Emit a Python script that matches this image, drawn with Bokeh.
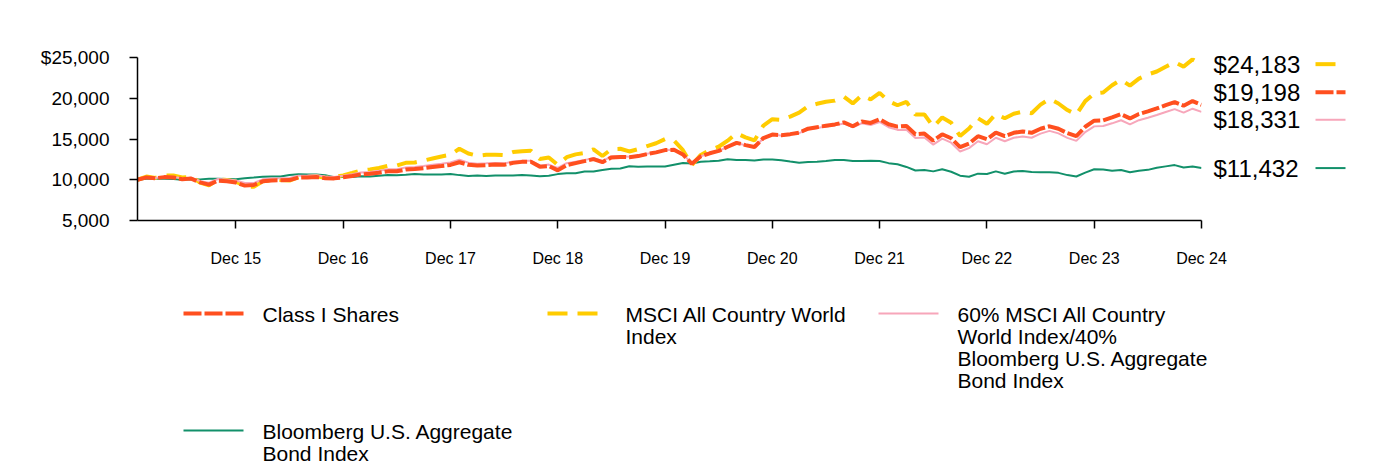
from bokeh.plotting import figure
from bokeh.models import Range1d, FixedTicker
from bokeh.embed import file_html
from bokeh.resources import INLINE
from bokeh.core.properties import value

# ---------------- data (month index 0 = start, 119 = Dec 24) ----------------
tick_months = [11, 23, 35, 47, 59, 71, 83, 95, 107, 119]
tick_labels = ["Dec 15", "Dec 16", "Dec 17", "Dec 18", "Dec 19",
               "Dec 20", "Dec 21", "Dec 22", "Dec 23", "Dec 24"]

y_ticks = [5000, 10000, 15000, 20000, 25000]
y_tick_labels = ["5,000", "10,000", "15,000", "20,000", "$25,000"]

class_i = [10000,
    10287, 10190, 10323, 10286, 10066, 10148, 9676, 9395, 9889, 9811, 9662,
    9279, 9354, 9804, 9917, 9936, 9962, 10262, 10288, 10334, 10196, 10167, 10304,
    10459, 10664, 10731, 10864, 11028, 11053, 11246, 11313, 11422, 11556, 11685, 11819,
    12151, 11836, 11738, 11796, 11862, 11831, 12069, 12194, 12195, 11609, 11679, 11157,
    11793, 12041, 12286, 12536, 12155, 12745, 12792, 12768, 12901, 13155, 13358, 13637,
    13680, 13110, 11960, 12880, 13245, 13540, 14050, 14530, 14250, 14020, 15120, 15550,
    15454, 15596, 15783, 16263, 16452, 16629, 16790, 17045, 16563, 17135, 16975, 17434,
    16806, 16519, 16599, 15581, 15663, 14786, 15580, 15088, 14002, 14432, 15347, 14970,
    15783, 15348, 15757, 15932, 15759, 16254, 16558, 16253, 15714, 15362, 16500, 17244,
    17287, 17651, 18048, 17525, 18070, 18397, 18747, 19157, 19527, 19089, 19653, 19198]

acwi = [10000,
    10393, 10232, 10533, 10522, 10276, 10368, 9657, 9307, 10039, 9959, 9778,
    9188, 9126, 9800, 9948, 9961, 9901, 10322, 10356, 10419, 10240, 10318, 10541,
    10827, 11133, 11271, 11447, 11695, 11748, 12076, 12122, 12356, 12613, 12859, 13066,
    13802, 13224, 12941, 13065, 13082, 13013, 13403, 13509, 13568, 12552, 12735, 11838,
    12773, 13114, 13279, 13728, 12914, 13760, 13800, 13473, 13756, 14133, 14478, 14988,
    14823, 13625, 11786, 13048, 13616, 14052, 14795, 15700, 15196, 14827, 16655, 17428,
    17350, 17752, 18226, 19022, 19317, 19574, 19709, 20202, 19368, 20354, 19863, 20658,
    19648, 19141, 19556, 17992, 18014, 16495, 17646, 16997, 15370, 16291, 17555, 16863,
    18072, 17553, 18094, 18355, 18157, 19212, 19915, 19357, 18556, 17999, 19646, 20589,
    20710, 21599, 22277, 21542, 22414, 22914, 23283, 23870, 24424, 23877, 24768, 24183]

blend = [10000,
    10287, 10210, 10375, 10359, 10168, 10251, 9823, 9636, 10091, 10032, 9910,
    9606, 9594, 10055, 10161, 10170, 10207, 10493, 10509, 10545, 10404, 10353, 10493,
    10672, 10882, 10961, 11097, 11276, 11302, 11511, 11579, 11691, 11840, 11972, 12110,
    12463, 12102, 11978, 12012, 12055, 12011, 12228, 12317, 12318, 11726, 11857, 11443,
    12034, 12224, 12410, 12663, 12303, 12848, 12882, 12832, 12966, 13195, 13385, 13664,
    13679, 13114, 12021, 12879, 13239, 13527, 14037, 14507, 14225, 13992, 15082, 15510,
    15423, 15549, 15720, 16182, 16354, 16530, 16673, 16910, 16432, 16932, 16708, 17092,
    16444, 16116, 16147, 15127, 15177, 14314, 15053, 14550, 13463, 13877, 14728, 14353,
    15147, 14729, 15151, 15319, 15153, 15659, 15998, 15688, 15139, 14771, 15850, 16549,
    16590, 16923, 17304, 16786, 17308, 17605, 17940, 18315, 18668, 18232, 18717, 18331]

agg = [10000,
    10114, 10161, 10124, 10100, 9990, 10060, 10046, 10114, 10116, 10090, 10058,
    10197, 10269, 10364, 10403, 10406, 10593, 10660, 10648, 10642, 10561, 10311, 10325,
    10346, 10415, 10410, 10490, 10571, 10560, 10605, 10701, 10650, 10656, 10642, 10691,
    10568, 10468, 10535, 10457, 10531, 10518, 10520, 10587, 10519, 10436, 10499, 10692,
    10805, 10799, 11006, 11010, 11206, 11347, 11372, 11667, 11605, 11640, 11634, 11626,
    11849, 12062, 11991, 12204, 12261, 12338, 12522, 12420, 12414, 12358, 12479, 12496,
    12406, 12227, 12074, 12169, 12209, 12295, 12433, 12409, 12301, 12298, 12335, 12303,
    12038, 11903, 11572, 11133, 11204, 11028, 11297, 10977, 10503, 10366, 10748, 10700,
    11030, 10744, 11017, 11084, 10963, 10924, 10916, 10846, 10571, 10404, 10875, 11292,
    11262, 11103, 11205, 10922, 11108, 11213, 11476, 11641, 11797, 11504, 11626, 11432]

end_labels = ["$24,183", "$19,198", "$18,331", "$11,432"]
end_label_y = [24183, 20740, 17360, 11432]   # label positions (spread to avoid overlap)

legend_names = [
    ["Class I Shares"],
    ["MSCI All Country World", "Index"],
    ["60% MSCI All Country", "World Index/40%", "Bloomberg U.S. Aggregate", "Bond Index"],
    ["Bloomberg U.S. Aggregate", "Bond Index"],
]

# ---------------- layout / styles ----------------
W, H = 1384, 472
LEFT, RIGHT_EDGE, TOP, BOTTOM = 137, 1201, 57, 220
X0, X1, Y0, Y1 = 0, 119, 5000, 25000

FONT = "Liberation Sans"
ORANGE = "#FF4F1F"
YELLOW = "#FFCC00"
PINK = "#F7A6BA"
GREEN = "#12906A"
styles = {
    "class_i": dict(color=ORANGE, width=4, dash="18 3"),
    "acwi": dict(color=YELLOW, width=4, dash="20 10"),
    "blend": dict(color=PINK, width=2, dash="solid"),
    "agg": dict(color=GREEN, width=2, dash="solid"),
}


def px_x(xp):
    """page pixel -> data x (for annotations outside the frame)"""
    return X0 + (xp - LEFT) * (X1 - X0) / (RIGHT_EDGE - LEFT)


def px_y(yp):
    return Y0 + (BOTTOM - yp) * (Y1 - Y0) / (BOTTOM - TOP)


months = list(range(len(class_i)))

p = figure(width=W, height=H, output_backend="svg", toolbar_location=None,
           x_range=Range1d(X0, X1), y_range=Range1d(Y0, Y1),
           min_border_left=LEFT, min_border_right=W - RIGHT_EDGE,
           min_border_top=TOP, min_border_bottom=H - BOTTOM)
p.outline_line_color = None
p.grid.visible = False
p.background_fill_color = "white"
p.border_fill_color = "white"

for ax in (p.xaxis[0], p.yaxis[0]):
    ax.axis_line_color = "#000000"
    ax.axis_line_width = 1.5
    ax.major_tick_line_color = "#000000"
    ax.major_tick_line_width = 1.5
    ax.major_tick_out = 8
    ax.major_tick_in = 0
    ax.minor_tick_line_color = None
    ax.major_label_text_font = FONT
    ax.major_label_text_color = "#000000"

p.xaxis.ticker = FixedTicker(ticks=tick_months)
p.xaxis.major_label_overrides = {m: l for m, l in zip(tick_months, tick_labels)}
p.xaxis.major_label_text_font_size = "16px"
p.xaxis.major_label_standoff = 21

p.yaxis.ticker = FixedTicker(ticks=y_ticks)
p.yaxis.major_label_overrides = {v: l for v, l in zip(y_ticks, y_tick_labels)}
p.yaxis.major_label_text_font_size = "19px"
p.yaxis.major_label_standoff = 20

series = [("agg", agg), ("acwi", acwi), ("blend", blend), ("class_i", class_i)]
for key, vals in series:
    s = styles[key]
    p.line(months, vals, line_color=s["color"], line_width=s["width"],
           line_dash=s["dash"])

# right-hand end labels + swatches (drawn at overlay level, outside the frame)
order = ["acwi", "class_i", "blend", "agg"]
for key, txt, ly in zip(order, end_labels, end_label_y):
    t = p.text(x=[px_x(1213)], y=[ly], text=[txt], text_font=value(FONT),
               text_font_size="24px", text_baseline="middle", text_align="left",
               text_color="#000000")
    t.level = "overlay"
    s = styles[key]
    r = p.line([px_x(1315), px_x(1345)], [ly, ly], line_color=s["color"],
               line_width=max(s["width"], 2), line_dash=s["dash"])
    r.level = "overlay"

# bottom legend
legend_keys = ["class_i", "acwi", "blend", "agg"]
swatch_x = [(183, 243), (547, 598), (878, 938), (183, 243)]
text_x = [262, 625, 957, 262]
swatch_y = [313, 313, 313, 430]
text_y0 = [314, 314, 314, 431]
LINE_H = 22
for key, (x0, x1), tx, sy, ty, lines in zip(legend_keys, swatch_x, text_x,
                                            swatch_y, text_y0, legend_names):
    s = styles[key]
    r = p.line([px_x(x0), px_x(x1)], [px_y(sy), px_y(sy)], line_color=s["color"],
               line_width=max(s["width"], 2), line_dash=s["dash"])
    r.level = "overlay"
    t = p.text(x=[px_x(tx)] * len(lines),
               y=[px_y(ty + k * LINE_H) for k in range(len(lines))],
               text=lines, text_font=value(FONT), text_font_size="21px",
               text_baseline="middle", text_align="left", text_color="#000000")
    t.level = "overlay"

open("out.html", "w").write(file_html(p, INLINE))
